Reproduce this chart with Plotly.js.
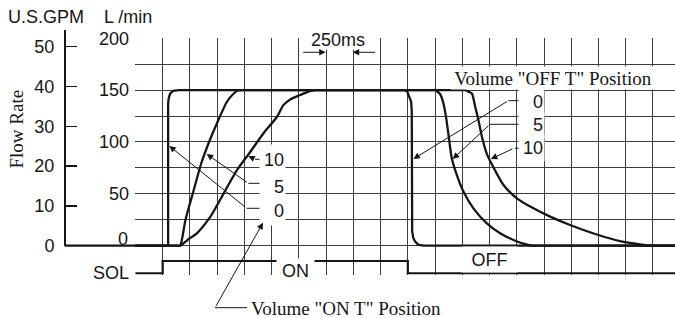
<!DOCTYPE html>
<html>
<head>
<meta charset="utf-8">
<script src="https://cdn.plot.ly/plotly-3.0.1.min.js"></script>
<style>html,body{margin:0;padding:0;background:#fff;}#chart{width:675px;height:318px;}</style>
</head>
<body>
<div id="chart"></div>
<script>
// ---------------- data (time in ms, flow in L/min) ----------------
const timeMs0 = [0, 300, 300, 304, 318, 345, 400, 2473, 2495, 2514, 2530, 2536, 2540, 2550, 2567, 2595, 2642, 4952];
const flow0   = [0, 0, 136, 141.5, 146.5, 149.2, 150, 150, 148.5, 144, 139, 130, 14, 7.5, 3.9, 1, 0, 0];

const timeMs5 = [0, 380, 410, 459, 535, 605, 672, 749, 841, 900, 935, 970, 1000, 2720, 2751, 2797, 2827, 2852, 2873, 2904, 2950, 3011, 3102, 3225, 3347, 3469, 3560, 3641, 3680, 4952];
const flow5   = [0, 0, 0, 24.8, 53.7, 79.7, 99, 118.3, 139, 146.5, 149.3, 150, 150, 150, 150, 146, 137, 123, 107, 84, 68, 52, 36, 21.6, 12, 5.5, 2, 0, 0, 0];

const timeMs10 = [0, 380, 410, 459, 490, 566, 688, 810, 933, 1055, 1177, 1300, 1357, 1421, 1511, 1587, 1650, 1690, 2990, 3026, 3055, 3088, 3118, 3148, 3180, 3225, 3286, 3378, 3501, 3653, 3806, 3989, 4249, 4448, 4631, 4739, 4780, 4952];
const flow10   = [0, 0, 0, 3.8, 6.5, 12.2, 28, 50.5, 73, 90.6, 108.6, 124.3, 135.5, 141, 145.2, 148.6, 150, 150, 150, 150, 148.5, 146.7, 134, 121, 105, 88.5, 75.5, 58.5, 45.7, 36, 28, 20, 10.3, 4.5, 1.3, 0, 0, 0];

const solTimeMs = [0, 250, 250, 2500, 2500, 4952];
const solState  = [0, 0, 1, 1, 0, 0];

const gridTimeMs = [0,250,500,750,1000,1250,1500,1750,2000,2250,2500,2750,3000,3250,3500,3750,4000,4250,4500,4750];
const flowTicks = [0,25,50,75,100,125,150,175,200];
const flowTickText = ['', '', '50', '', '100', '', '150', '', '200'];
const gpmTicks = [0,10,20,30,40,50];

const onLabels  = ['10', '5', '0'];
const offLabels = ['0', '5', '10'];

// ---------------- helpers (pixel -> paper) ----------------
const W = 675, H = 318;
const PX = x => x / W;
const PY = y => 1 - y / H;
const SANS = 'Liberation Sans, Arial, sans-serif';
const SERIF = 'Liberation Serif, Times New Roman, serif';
const INK = '#161616';
const GRID = '#3d3d3d';

const curveLine = {color: INK, width: 2.3};
const smoothLine = {color: INK, width: 2.3, shape: 'spline', smoothing: 0.6};
const traces = [
  {x: timeMs0,  y: flow0,  mode: 'lines', line: curveLine, xaxis: 'x', yaxis: 'y', hoverinfo: 'skip'},
  {x: timeMs5,  y: flow5,  mode: 'lines', line: smoothLine, xaxis: 'x', yaxis: 'y', hoverinfo: 'skip'},
  {x: timeMs10, y: flow10, mode: 'lines', line: smoothLine, xaxis: 'x', yaxis: 'y', hoverinfo: 'skip'},
  {x: solTimeMs, y: solState, mode: 'lines', line: {color: INK, width: 2.2, shape: 'linear'}, xaxis: 'x', yaxis: 'y3', hoverinfo: 'skip'},
  {x: [null], y: [null], mode: 'lines', xaxis: 'x2', yaxis: 'y2', hoverinfo: 'skip'}
];

function txt(text, cx, cy, opts) {
  return Object.assign({xref: 'paper', yref: 'paper', x: PX(cx), y: PY(cy), xanchor: 'center', yanchor: 'middle',
    showarrow: false, text: text, font: {family: SANS, size: 18, color: INK}}, opts || {});
}
function arrowData(t, f, dx, dy) {
  return {xref: 'x', yref: 'y', x: t, y: f, ax: dx, ay: dy, text: '', showarrow: true,
    arrowhead: 2, arrowsize: 1.3, arrowwidth: 1, arrowcolor: INK, standoff: 0, startstandoff: 0};
}
function arrowPaper(x, y, dx, dy) {
  return {xref: 'paper', yref: 'paper', x: PX(x), y: PY(y), ax: dx, ay: dy, text: '', showarrow: true,
    arrowhead: 2, arrowsize: 1.3, arrowwidth: 1, arrowcolor: INK, standoff: 0, startstandoff: 0};
}
function seg(x0, y0, x1, y1, w) {
  return {type: 'line', xref: 'paper', yref: 'paper', x0: PX(x0), y0: PY(y0), x1: PX(x1), y1: PY(y1),
    line: {color: INK, width: w || 1}, layer: 'above'};
}

const annotations = [
  txt('U.S.GPM', 46, 17),
  txt('L /min', 128, 17),
  txt('Flow Rate', 15.5, 129, {textangle: -90, font: {family: SERIF, size: 19, color: INK}}),
  txt('0', 123, 238.5),
  txt('SOL', 110.5, 273),
  txt('250ms', 337.5, 39.5, {bgcolor: '#fff', width: 64, height: 19, borderpad: 0}),
  txt('ON', 295, 271, {bgcolor: '#fff', width: 37, height: 24, borderpad: 0}),
  txt('OFF', 489, 259.5, {bgcolor: '#fff', width: 55, height: 25, borderpad: 0}),
  txt('Volume "OFF T" Position', 553, 78, {bgcolor: '#fff', width: 204, height: 22, borderpad: 0,
    font: {family: SERIF, size: 19, color: INK}}),
  txt('Volume "ON T" Position', 249, 308.5, {xanchor: 'left', font: {family: SERIF, size: 19, color: INK}}),
  // ON-side position labels
  txt(onLabels[0], 286, 159, {xanchor: 'right', align: 'right', bgcolor: '#fff', width: 23, height: 27, borderpad: 1}),
  txt(onLabels[1], 286, 186.5, {xanchor: 'right', align: 'right', bgcolor: '#fff', width: 23, height: 27, borderpad: 1}),
  txt(onLabels[2], 286, 210.5, {xanchor: 'right', align: 'right', bgcolor: '#fff', width: 23, height: 27, borderpad: 1}),
  // OFF-side position labels
  txt(offLabels[0], 545, 101.7, {xanchor: 'right', align: 'right', bgcolor: '#fff', width: 23, height: 24, borderpad: 1}),
  txt(offLabels[1], 545, 125, {xanchor: 'right', align: 'right', bgcolor: '#fff', width: 23, height: 24, borderpad: 1}),
  txt(offLabels[2], 545, 148.3, {xanchor: 'right', align: 'right', bgcolor: '#fff', width: 23, height: 24, borderpad: 1}),
  // leader arrows (ON side)
  arrowData(311, 96.1, 77.4, 62.3),
  arrowData(654, 88.4, 41.6, 29.3),
  arrowData(1036, 86.5, 6.7, 3.3),
  // leader arrows (OFF side)
  arrowData(2551, 83.6, 95, -58.3),
  arrowData(2912, 83.6, 37.3, -34.7),
  arrowData(3262, 83.6, 23, -10.7),
  // ON T leader
  arrowData(1171, 22.2, -48, 85),
  // 250 ms dimension
  arrowPaper(325.7, 52.3, -24, 0),
  arrowPaper(352.7, 52.3, 24, 0)
];

const shapes = [
  seg(65, 245.7, 136, 245.7, 2.3),
  seg(246.7, 208.3, 262, 208.3),
  seg(248.3, 183.3, 262, 183.3),
  seg(255, 159.3, 262, 159.3),
  seg(508.3, 100.7, 522, 100.7),
  seg(490, 124.3, 522, 124.3),
  seg(515, 148.3, 522, 148.3),
  seg(215, 307.7, 247, 307.7)
];

const layout = {
  width: W, height: H,
  margin: {l: 0, r: 0, t: 0, b: 0, pad: 0},
  paper_bgcolor: '#fff', plot_bgcolor: '#fff',
  showlegend: false,
  font: {family: SANS, size: 18, color: INK},
  xaxis: {domain: [0.2, 1], range: [-4, 4952], anchor: 'y', tickvals: gridTimeMs, showticklabels: false,
    ticks: '', showgrid: true, gridcolor: GRID, gridwidth: 1, zeroline: false, showline: false, fixedrange: true},
  yaxis: {domain: [1 - 274.5 / H, 1 - 37.9 / H], range: [-27.76, 200.3], anchor: 'x',
    tickvals: flowTicks, ticktext: flowTickText, ticks: '', ticklabelstandoff: 5,
    showgrid: true, gridcolor: GRID, gridwidth: 1, zeroline: false, showline: false,
    tickfont: {family: SANS, size: 18, color: INK}, fixedrange: true},
  yaxis3: {overlaying: 'y', range: [-0.0976, 19.138], visible: false, showgrid: false, zeroline: false},
  xaxis2: {domain: [0, 0.005], anchor: 'y2', visible: false, showgrid: false, zeroline: false},
  yaxis2: {domain: [1 - 245.7 / H, 1 - 30 / H], range: [0, 54.2], anchor: 'free', position: 65 / W, side: 'left',
    showline: true, linewidth: 2, linecolor: INK, ticks: 'inside', ticklen: 11, tickwidth: 1.3, tickcolor: INK,
    tickvals: gpmTicks, showgrid: false, zeroline: false, ticklabelstandoff: 6,
    tickfont: {family: SANS, size: 18, color: INK}},
  annotations: annotations,
  shapes: shapes
};

Plotly.newPlot('chart', traces, layout, {displayModeBar: false, staticPlot: true});
</script>
</body>
</html>
